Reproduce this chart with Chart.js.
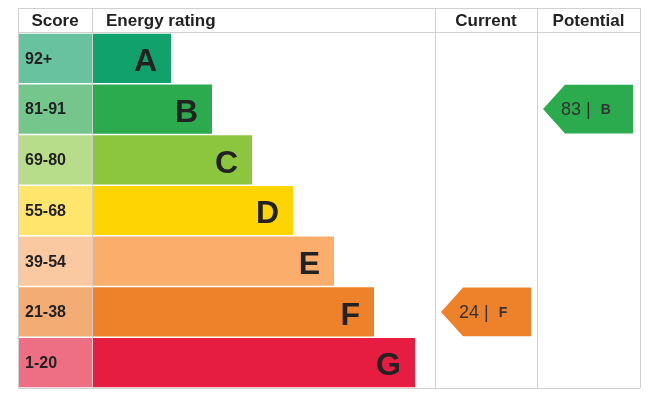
<!DOCTYPE html>
<html><head><meta charset="utf-8">
<script src="https://cdn.jsdelivr.net/npm/chart.js@4/dist/chart.umd.min.js"></script>
<style>html,body{margin:0;background:#fff}#c{display:block}</style>
</head><body>
<div style="width:656px;height:404px"><canvas id="c"></canvas></div>
<script>
// data
const bands = ['A', 'B', 'C', 'D', 'E', 'F', 'G'];
const scoreRanges = ['92+', '81-91', '69-80', '55-68', '39-54', '21-38', '1-20'];
const barEnds = [153, 194, 234, 275, 316, 356, 397];
const bandColors = ['#11a16c', '#2bab4d', '#8cc63f', '#fed402', '#fbad6b', '#ee822b', '#e61d40'];
const scoreColors = ['#68c19f', '#74c68c', '#b7dc8a', '#ffe56b', '#fbc9a1', '#f3ad74', '#ee6e84'];
const currentScore = 24, currentBand = 'F';
const potentialScore = 83, potentialBand = 'B';

const scoreColEnd = 74, ratingColEnd = 417, currentColEnd = 519, tableEnd = 622;

const tablePlugin = {
  id: 'table',
  afterDatasetsDraw(chart) {
    const { ctx, scales: { x, y }, chartArea: a } = chart;
    const top = 8;
    const rowH = y.getPixelForValue(1) - y.getPixelForValue(0);
    ctx.save();
    ctx.strokeStyle = '#d0d0d0';
    ctx.lineWidth = 1;
    ctx.beginPath();
    [0, scoreColEnd, ratingColEnd, currentColEnd, tableEnd].forEach(v => {
      const px = Math.round(x.getPixelForValue(v)) + 0.5;
      ctx.moveTo(px, top); ctx.lineTo(px, a.bottom);
    });
    ctx.moveTo(a.left, top + 0.5); ctx.lineTo(a.right, top + 0.5);
    ctx.moveTo(a.left, a.top - 0.5); ctx.lineTo(a.right, a.top - 0.5);
    ctx.moveTo(a.left, a.bottom + 0.5); ctx.lineTo(a.right, a.bottom + 0.5);
    ctx.stroke();

    // headers
    ctx.fillStyle = '#222';
    ctx.font = 'bold 17px Arial, "Liberation Sans"';
    ctx.textBaseline = 'middle';
    const hy = (top + a.top) / 2 + 1;
    ctx.textAlign = 'center';
    ctx.fillText('Score', x.getPixelForValue(scoreColEnd / 2), hy);
    ctx.textAlign = 'left';
    ctx.fillText('Energy rating', x.getPixelForValue(scoreColEnd) + 14, hy);
    ctx.textAlign = 'center';
    ctx.fillText('Current', x.getPixelForValue((ratingColEnd + currentColEnd) / 2), hy);
    ctx.fillText('Potential', x.getPixelForValue((currentColEnd + tableEnd) / 2), hy);

    // scores and letters
    bands.forEach((b, i) => {
      const cy = y.getPixelForValue(i);
      ctx.fillStyle = '#222';
      ctx.textAlign = 'left';
      ctx.font = 'bold 16px Arial, "Liberation Sans"';
      ctx.fillText(scoreRanges[i], x.getPixelForValue(0) + 7, cy + 1);
      ctx.textAlign = 'right';
      ctx.font = 'bold 32px Arial, "Liberation Sans"';
      ctx.fillText(b, x.getPixelForValue(barEnds[i]) - 14, cy + 4);
    });

    // arrows
    const arrow = (score, band, x0, x1) => {
      const i = bands.indexOf(band);
      const cy = y.getPixelForValue(i);
      const h = rowH * 0.96 / 2;
      const l = x.getPixelForValue(x0), r = x.getPixelForValue(x1);
      ctx.fillStyle = bandColors[i];
      ctx.beginPath();
      ctx.moveTo(l, cy);
      ctx.lineTo(l + 22, cy - h);
      ctx.lineTo(r, cy - h);
      ctx.lineTo(r, cy + h);
      ctx.lineTo(l + 22, cy + h);
      ctx.closePath();
      ctx.fill();
      ctx.fillStyle = '#333';
      ctx.textAlign = 'left';
      ctx.font = '18px Arial, "Liberation Sans"';
      const t = score + ' |  ';
      ctx.fillText(t, l + 18, cy + 1);
      const w = ctx.measureText(t).width;
      ctx.font = 'bold 14px Arial, "Liberation Sans"';
      ctx.fillText(band, l + 18 + w, cy + 1);
    };
    arrow(currentScore, currentBand, 423, 513);
    arrow(potentialScore, potentialBand, 525, 615);
    ctx.restore();
  }
};

new Chart(document.getElementById('c'), {
  type: 'bar',
  data: {
    labels: bands,
    datasets: [
      { data: bands.map(() => [0, scoreColEnd]), backgroundColor: scoreColors, grouped: false, barPercentage: 0.97, categoryPercentage: 1 },
      { data: barEnds.map(v => [scoreColEnd + 1, v]), backgroundColor: bandColors, grouped: false, barPercentage: 0.97, categoryPercentage: 1 }
    ]
  },
  options: {
    indexAxis: 'y',
    responsive: true,
    maintainAspectRatio: false,
    animation: false,
    layout: { padding: { left: 18, right: 16, top: 33, bottom: 16 } },
    plugins: { legend: { display: false }, tooltip: { enabled: false } },
    scales: {
      x: { type: 'linear', min: 0, max: tableEnd, display: false },
      y: { display: false }
    }
  },
  plugins: [tablePlugin]
});
</script>
</body></html>
